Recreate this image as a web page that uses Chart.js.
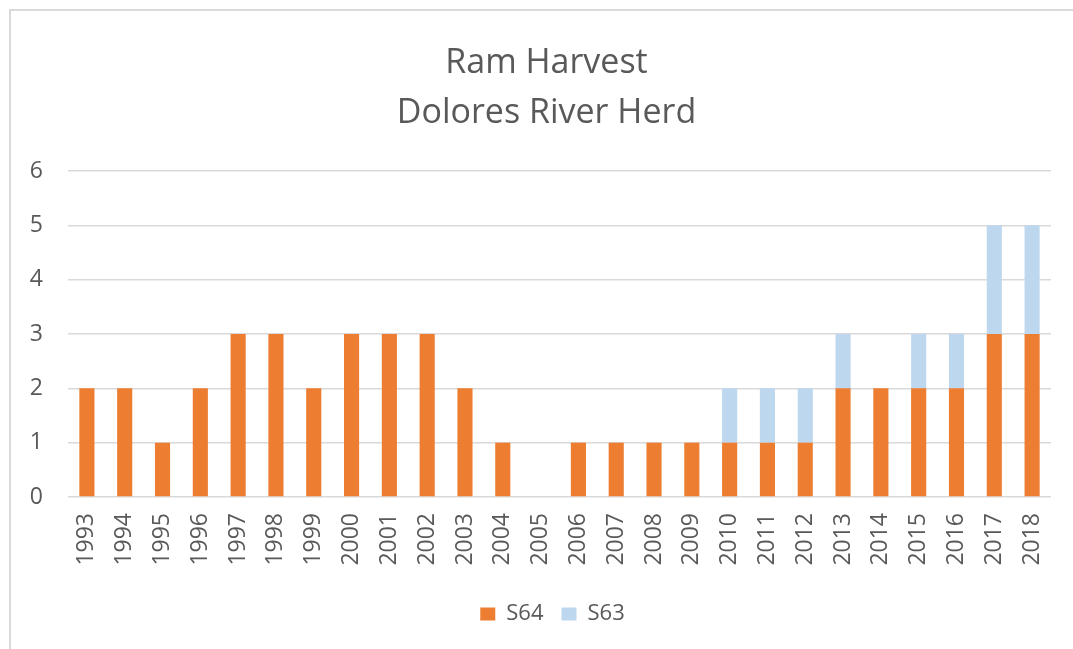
<!DOCTYPE html>
<html>
<head>
<meta charset="utf-8">
<script src="https://cdn.jsdelivr.net/npm/chart.js@4/dist/chart.umd.min.js"></script>
<style>
  html, body { margin:0; padding:0; width:1073px; height:649px; overflow:hidden; background:#fff; }
  #frame { position:absolute; left:9px; top:9px; width:1200px; height:800px; border:2px solid #D9D9D9; box-sizing:border-box; }
  #wrap { position:absolute; left:10px; top:0; width:1073px; height:649px; }
</style>
</head>
<body>
<div id="frame"></div>
<div id="wrap"><canvas id="c" width="1073" height="649"></canvas></div>
<script>
const categories = ['1993','1994','1995','1996','1997','1998','1999','2000','2001','2002','2003','2004','2005','2006','2007','2008','2009','2010','2011','2012','2013','2014','2015','2016','2017','2018'];
const s64 = [2,2,1,2,3,3,2,3,3,3,2,1,0,1,1,1,1,1,1,1,2,2,2,2,3,3];
const s63 = [0,0,0,0,0,0,0,0,0,0,0,0,0,0,0,0,0,1,1,1,1,0,1,1,2,2];
const yTicks = [0,1,2,3,4,5,6];
const titleLines = ['Ram Harvest','Dolores River Herd'];

const FONT = "'Open Sans', 'DejaVu Sans', sans-serif";
const TXT = '#595959';

const legendShift = {
  id: 'legendShift',
  afterLayout(chart) {
    if (chart.legend) { chart.legend.left += 6; chart.legend.right += 6; }
  }
};

new Chart(document.getElementById('c'), {
  type: 'bar',
  data: {
    labels: categories,
    datasets: [
      { label: 'S64', data: s64, backgroundColor: '#ED7D31', borderWidth: 0, categoryPercentage: 1, barPercentage: 0.4 },
      { label: 'S63', data: s63, backgroundColor: '#BDD7EE', borderWidth: 0, categoryPercentage: 1, barPercentage: 0.4 }
    ]
  },
  plugins: [legendShift],
  options: {
    responsive: false,
    animation: false,
    layout: { padding: { left: 0, right: 0, top: 0, bottom: 14 } },
    plugins: {
      tooltip: { enabled: false },
      title: {
        display: true,
        text: titleLines,
        color: TXT,
        font: { family: FONT, size: 34, weight: 'normal', lineHeight: '50px' },
        padding: { top: 38, bottom: 33 }
      },
      legend: {
        position: 'bottom',
        labels: {
          color: TXT,
          font: { family: FONT, size: 22 },
          boxWidth: 15,
          boxHeight: 13,
          padding: 18
        }
      }
    },
    scales: {
      x: {
        stacked: true,
        grid: { display: false, drawTicks: false },
        border: { display: false },
        ticks: {
          color: TXT,
          font: { family: FONT, size: 23 },
          minRotation: 90,
          maxRotation: 90,
          autoSkip: false,
          padding: 16
        },
        afterFit: s => { s.height = 88; }
      },
      y: {
        stacked: true,
        min: 0,
        max: 6,
        afterBuildTicks: s => { s.ticks = yTicks.map(v => ({ value: v })); },
        grid: { color: '#D9D9D9', lineWidth: 1.5, drawTicks: false },
        border: { display: false },
        ticks: {
          color: TXT,
          font: { family: FONT, size: 23 },
          padding: 25
        },
        afterFit: s => { s.width = 58; }
      },
      yRight: {
        position: 'right',
        display: true,
        grid: { display: false, drawTicks: false },
        border: { display: false },
        ticks: { display: false },
        afterFit: s => { s.width = 32; }
      }
    }
  }
});
</script>
</body>
</html>
